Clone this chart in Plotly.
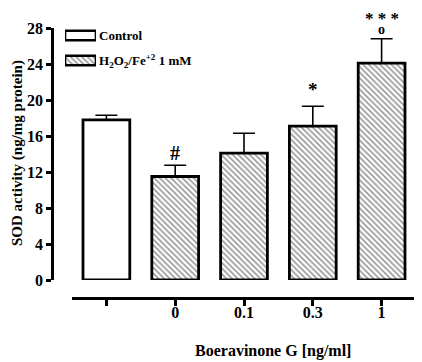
import plotly.graph_objects as go

tick_labels = ["", "0", "0.1", "0.3", "1"]
control_values = [17.8]
control_err = [0.5]
treated_values = [11.5, 14.1, 17.1, 24.1]
treated_err = [1.25, 2.2, 2.2, 2.7]
sig_labels = ["#", "", "*", "o"]
sig_y = [14.1, None, 21.2, 27.9]
sig_top = "* * *"
legend_names = ["Control", "H<sub>2</sub>O<sub>2</sub>/Fe<sup>+2</sup> 1 mM"]

FONT = "Liberation Serif"
OFF = 8  # page body margin of the browser
W, H = 422 - OFF, 362 - OFF
# plot area in reference-pixel coordinates
PL, PR, PT, PB = 52, 416, 10, 298
ml, mr, mt, mb = PL - OFF, W - (PR - OFF), PT - OFF, H - (PB - OFF)
pw, ph = PR - PL, PB - PT

def px_x(p):
    return (p - PL) / pw

def px_y(p):
    return (PB - p) / ph

xpos = list(range(len(tick_labels)))
hatch = dict(shape="\\", fgcolor="#333333", bgcolor="white", size=4, solidity=0.42)

fig = go.Figure()
fig.add_trace(go.Bar(
    x=xpos[:1], y=control_values, name=legend_names[0], showlegend=False,
    marker=dict(color="white", line=dict(color="black", width=2.8)),
    error_y=dict(type="data", array=control_err, arrayminus=[0] * len(control_err),
                 symmetric=False, color="black", thickness=1.6, width=11),
    width=0.68,
))
fig.add_trace(go.Bar(
    x=xpos[1:], y=treated_values, name=legend_names[1], showlegend=False,
    marker=dict(color="white", line=dict(color="black", width=2.8), pattern=hatch),
    error_y=dict(type="data", array=treated_err, arrayminus=[0] * len(treated_err),
                 symmetric=False, color="black", thickness=1.6, width=11),
    width=0.68,
))
# legend keys (drawn as small horizontal bars on their own hidden axes)
fig.add_trace(go.Bar(
    x=[1], y=[1], orientation="h", xaxis="x2", yaxis="y2", showlegend=False, hoverinfo="skip",
    marker=dict(color="white", line=dict(color="black", width=2.6)), width=0.38,
))
fig.add_trace(go.Bar(
    x=[1], y=[0], orientation="h", xaxis="x2", yaxis="y2", showlegend=False, hoverinfo="skip",
    marker=dict(color="white", line=dict(color="black", width=2.6), pattern=hatch), width=0.38,
))

annotations = []
for i, (lab, yy) in enumerate(zip(sig_labels, sig_y)):
    if lab and yy is not None:
        ann = dict(x=xpos[i + 1], y=yy, text="<b>" + lab + "</b>",
                   showarrow=False, yanchor="middle", xanchor="center",
                   font=dict(family=FONT, size={"#": 20, "*": 19, "o": 14}[lab], color="black"))
        if lab == "o":
            ann["height"] = 10
        annotations.append(ann)
annotations.append(dict(x=xpos[-1], y=28, yshift=10, height=12, text="<b>" + sig_top + "</b>",
                        showarrow=False, yanchor="middle", xanchor="center",
                        font=dict(family=FONT, size=17, color="black")))
annotations.append(dict(xref="paper", yref="paper", x=px_x(273), y=px_y(351),
                        xanchor="center", yanchor="middle",
                        text="<b>Boeravinone G [ng/ml]</b>", showarrow=False,
                        font=dict(family=FONT, size=16, color="black")))
annotations.append(dict(xref="paper", yref="paper", x=px_x(17), y=px_y(153),
                        xanchor="center", yanchor="middle",
                        text="<b>SOD activity (ng/mg protein)</b>", showarrow=False, textangle=-90,
                        font=dict(family=FONT, size=15, color="black")))
for name, yy in zip(legend_names, [35.5, 60.5]):
    annotations.append(dict(xref="paper", yref="paper", x=px_x(97), y=px_y(yy), xanchor="left",
                            yanchor="middle", text="<b>" + name + "</b>", showarrow=False,
                            font=dict(family=FONT, size=13, color="black")))

fig.update_layout(
    width=W, height=H,
    margin=dict(l=ml, r=mr, t=mt, b=mb),
    paper_bgcolor="white", plot_bgcolor="white",
    barmode="overlay",
    showlegend=False,
    xaxis=dict(domain=[px_x(72), 1], anchor="free", position=0, automargin=False,
               range=[-0.5, 4.5], tickvals=xpos, ticktext=["<b>%s</b>" % t for t in tick_labels],
               showline=True, linecolor="black", linewidth=2.8,
               ticks="outside", ticklen=6, tickwidth=2.5, tickcolor="black",
               ticklabelstandoff=-7,
               showgrid=False, zeroline=False,
               tickfont=dict(family=FONT, size=16, color="black")),
    yaxis=dict(domain=[px_y(280), px_y(28)], anchor="free", position=0, automargin=False,
               range=[0, 28], tickvals=list(range(0, 29, 4)),
               ticktext=["<b>%d</b>" % v for v in range(0, 29, 4)],
               showline=True, linecolor="black", linewidth=2.5,
               ticks="outside", ticklen=5, tickwidth=2.5, tickcolor="black",
               showgrid=False, zeroline=False,
               tickfont=dict(family=FONT, size=16, color="black")),
    xaxis2=dict(domain=[px_x(65), px_x(96)], anchor="y2", range=[0, 1], visible=False, fixedrange=True),
    yaxis2=dict(domain=[px_y(73), px_y(23)], anchor="x2", range=[-0.5, 1.5], visible=False, fixedrange=True),
    annotations=annotations,
)

fig.write_html("out.html")
